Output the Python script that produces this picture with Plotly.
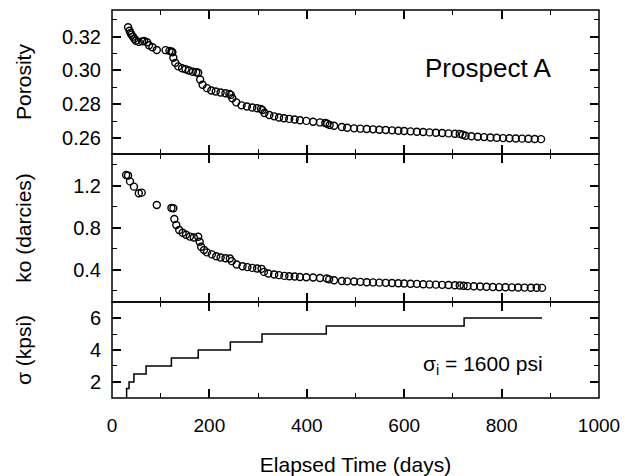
import plotly.graph_objects as go

# ---------------- data ----------------
por_days = [33, 36, 38, 40, 43, 46, 49, 55, 62, 66, 72, 76, 83, 92, 110, 118, 122, 124,
            126, 130, 136, 144, 151, 158, 166, 173, 177, 181, 186, 195, 204, 213, 223, 233,
            241, 244, 247, 255, 266, 277, 288, 298, 306, 309, 313, 323, 333, 343, 353, 364,
            375, 386, 399, 413, 427, 438, 442, 447, 456, 472, 483, 497, 510, 523, 536, 549,
            562, 575, 588, 600, 613, 626, 639, 652, 665, 678, 691, 704, 714, 720, 726, 738,
            751, 764, 777, 790, 803, 816, 829, 842, 855, 868, 881]
porosity = [0.3256, 0.3235, 0.3222, 0.3212, 0.3200, 0.3188, 0.3176, 0.3169, 0.3172, 0.3174,
            0.3167, 0.3149, 0.3137, 0.3121, 0.3120, 0.3116, 0.3112, 0.3108, 0.3075, 0.3045,
            0.3024, 0.3013, 0.3007, 0.3000, 0.2992, 0.2989, 0.2986, 0.2946, 0.2915, 0.2895,
            0.2881, 0.2875, 0.2869, 0.2865, 0.2861, 0.2855, 0.2835, 0.2811, 0.2793, 0.2786,
            0.2780, 0.2776, 0.2772, 0.2765, 0.2748, 0.2736, 0.2728, 0.2721, 0.2717, 0.2713,
            0.2709, 0.2705, 0.2701, 0.2696, 0.2692, 0.2689, 0.2684, 0.2677, 0.2672, 0.2665,
            0.2660, 0.2657, 0.2655, 0.2653, 0.2651, 0.2649, 0.2647, 0.2645, 0.2643, 0.2641,
            0.2639, 0.2637, 0.2635, 0.2633, 0.2631, 0.2629, 0.2627, 0.2625, 0.2624, 0.2619,
            0.2613, 0.2610, 0.2607, 0.2605, 0.2603, 0.2601, 0.2599, 0.2598, 0.2597, 0.2596,
            0.2595, 0.2594, 0.2593]

ko_days = [29, 33, 37, 45, 55, 61, 92, 122, 126, 128, 132, 138, 145, 152, 160, 168, 177, 180,
           183, 189, 195, 205, 214, 223, 233, 242, 246, 256, 268, 278, 288, 298, 307, 312,
           321, 333, 343, 354, 364, 375, 386, 399, 413, 427, 441, 446, 456, 472, 483, 497,
           510, 523, 536, 549, 562, 575, 588, 600, 613, 626, 639, 652, 665, 678, 691, 704,
           714, 722, 730, 743, 756, 769, 782, 795, 808, 821, 834, 847, 860, 872, 883]
ko = [1.300, 1.295, 1.240, 1.190, 1.128, 1.133, 1.016, 0.987, 0.985, 0.883, 0.826, 0.778,
      0.752, 0.733, 0.716, 0.708, 0.714, 0.667, 0.619, 0.588, 0.566, 0.547, 0.530, 0.518,
      0.511, 0.508, 0.483, 0.451, 0.435, 0.426, 0.419, 0.413, 0.410, 0.381, 0.366, 0.356,
      0.350, 0.343, 0.340, 0.337, 0.333, 0.330, 0.327, 0.323, 0.318, 0.310, 0.302, 0.294,
      0.291, 0.289, 0.286, 0.283, 0.281, 0.279, 0.277, 0.275, 0.273, 0.271, 0.269, 0.267,
      0.264, 0.262, 0.260, 0.258, 0.256, 0.254, 0.252, 0.249, 0.246, 0.244, 0.242, 0.240,
      0.238, 0.236, 0.235, 0.234, 0.233, 0.232, 0.231, 0.230, 0.229]

stress_days = [30, 30, 35, 45, 70, 122, 177, 243, 308, 440, 723, 883]
stress_kpsi = [1.0, 1.6, 2.0, 2.5, 3.0, 3.5, 4.0, 4.5, 5.0, 5.5, 6.0, 6.0]

FONT = "Liberation Sans, Arial, Helvetica, sans-serif"
DOM_BOT = [0, 0.2474]
DOM_MID = [0.2474, 0.6289]
DOM_TOP = [0.6289, 1.0]

marker = dict(symbol="circle-open", size=7, color="black", line=dict(width=1.4, color="black"))

fig = go.Figure()
fig.add_trace(go.Scatter(x=por_days, y=porosity, mode="markers", marker=marker,
                         xaxis="x3", yaxis="y3", name="Porosity"))
fig.add_trace(go.Scatter(x=ko_days, y=ko, mode="markers", marker=marker,
                         xaxis="x2", yaxis="y2", name="ko"))
fig.add_trace(go.Scatter(x=stress_days, y=stress_kpsi, mode="lines", line_shape="hv",
                         line=dict(color="black", width=1.5),
                         xaxis="x", yaxis="y", name="stress"))

def xax(anchor, labels):
    return dict(range=[0, 1000], anchor=anchor, showline=False, mirror="ticks",
                automargin=False,
                ticks="inside", ticklen=9, tickwidth=1.5,
                tickcolor="black", tick0=0, dtick=200, showgrid=False, zeroline=False,
                showticklabels=labels,
                minor=dict(dtick=100, ticks="inside", ticklen=5, tickwidth=1.4, tickcolor="black",
                           showgrid=False),
                tickfont=dict(size=19, color="black", family=FONT))

def yax(domain, rng, dtick, mdtick, fmt, title, standoff):
    return dict(domain=domain, range=rng, showline=False, mirror="ticks",
                automargin=False,
                ticks="inside", ticklen=9, tickwidth=1.5, tickcolor="black",
                tick0=0, dtick=dtick, tickformat=fmt, showgrid=False, zeroline=False,
                minor=dict(dtick=mdtick, ticks="inside", ticklen=5, tickwidth=1.4,
                           tickcolor="black", showgrid=False),
                tickfont=dict(size=20, color="black", family=FONT),
                ticklabelstandoff=10,
                title=dict(text=title, font=dict(size=21, color="black", family=FONT),
                           standoff=standoff))

xa = xax("y", True)
xa["title"] = dict(text="Elapsed Time (days)", font=dict(size=21, color="black", family=FONT),
                   standoff=27)
xa["ticklabelstandoff"] = 14

frames = [dict(type="rect", xref="paper", yref="paper", x0=0, x1=1, y0=d[0], y1=d[1],
               line=dict(color="black", width=1.5), fillcolor="rgba(0,0,0,0)", layer="above")
          for d in (DOM_BOT, DOM_MID, DOM_TOP)]

fig.update_layout(
    template="none",
    width=625, height=476,
    margin=dict(l=112, r=26, t=10, b=78, autoexpand=False),
    paper_bgcolor="white", plot_bgcolor="white",
    showlegend=False,
    font=dict(family=FONT, color="black"),
    xaxis=xa,
    xaxis2=xax("y2", False) | dict(matches="x"),
    xaxis3=xax("y3", False) | dict(matches="x"),
    yaxis=yax(DOM_BOT, [1.0, 7.0], 2, 1, "d", "σ (kpsi)", 52),
    yaxis2=yax(DOM_MID, [0.095, 1.5], 0.4, 0.2, ".1f", "ko (darcies)", 35),
    yaxis3=yax(DOM_TOP, [0.2505, 0.3358], 0.02, 0.01, ".2f", "Porosity", 24),
    shapes=frames,
    annotations=[
        dict(text="Prospect A", x=772, y=0.3012, xref="x3", yref="y3", showarrow=False,
             font=dict(size=26, color="black", family=FONT)),
        dict(text="σ<sub>i</sub> = 1600 psi", x=761, y=3.04, xref="x", yref="y",
             showarrow=False, font=dict(size=21, color="black", family=FONT)),
    ],
)

fig.write_html("out.html", config={"displayModeBar": False},
               post_script="document.body.style.margin='0';document.body.style.overflow='hidden';")
